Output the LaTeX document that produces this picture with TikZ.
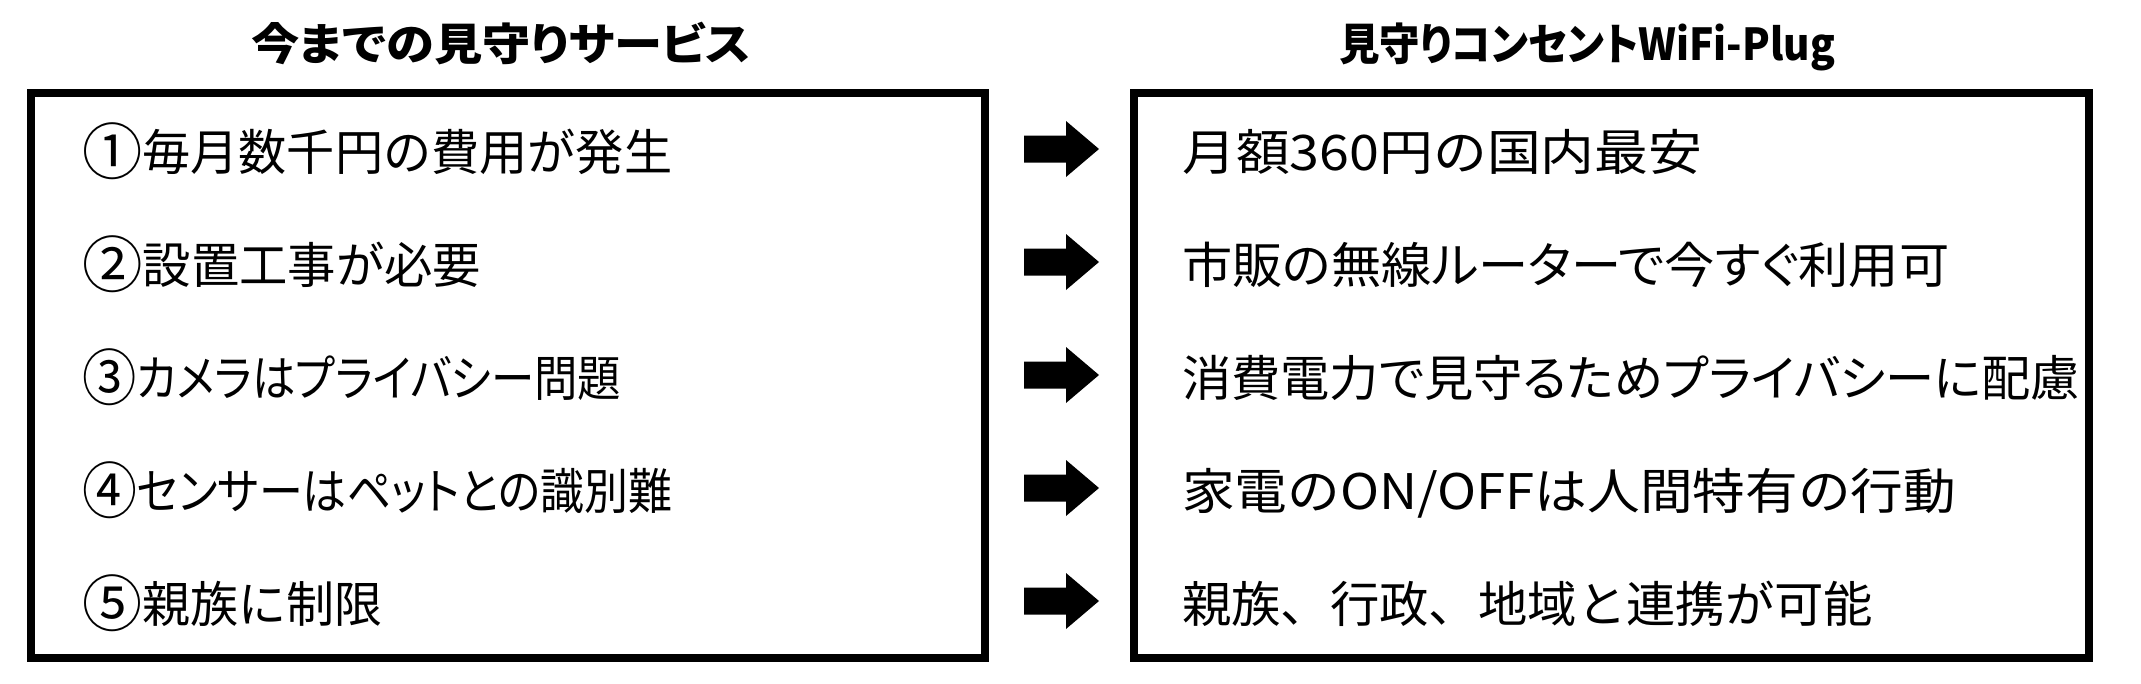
\documentclass[tikz,border=0pt]{standalone}
\usepackage{fontspec}
\usepackage{graphicx}
\setmainfont{Noto Sans CJK JP}
\newfontfamily\jp{Noto Sans CJK JP}
\newfontfamily\jpp{Noto Sans CJK JP}[RawFeature=+palt]
\newcommand\fitto[2]{\resizebox{#1pt}{\height}{#2}}
\newcommand\bignum[1]{\raisebox{-0.09em}{\scalebox{1.25}{#1}}}
\begin{document}
\begin{tikzpicture}[x=1pt,y=-1pt,
  box/.style={draw=black, line width=8pt, line join=miter, inner sep=0pt, outer sep=0pt},
  blockarrow/.style={fill=black},
  body/.style={anchor=base west, inner sep=0pt, font=\fontsize{49pt}{58pt}\selectfont},
  title/.style={anchor=base, inner sep=0pt, font=\fontsize{44pt}{52pt}\selectfont\bfseries}]
\useasboundingbox (0,0) rectangle (2141,683);
% titles
\node[title] (tl) at (501,60) {\fitto{500}{\jpp 今までの見守りサービス}};
\node[title] (tr) at (1587,60) {\fitto{496}{\jpp 見守りコンセントWiFi-Plug}};
% boxes
\node[box, minimum width=954.5pt, minimum height=565pt] (lbox) at (507.75,375.5) {};
\node[box, minimum width=955pt, minimum height=565pt] (rbox) at (1611.5,375.5) {};
% left items
\node[body] (l1) at (82,170) {\fitto{590}{\jp \bignum{①}毎月数千円の費用が発生}};
\node[body] (l2) at (82,283) {\fitto{399}{\jp \bignum{②}設置工事が必要}};
\node[body] (l3) at (82,396) {\fitto{539}{\jpp \bignum{③}カメラはプライバシー問題}};
\node[body] (l4) at (82,509) {\fitto{590}{\jpp \bignum{④}センサーはペットとの識別難}};
\node[body] (l5) at (82,622) {\fitto{300}{\jp \bignum{⑤}親族に制限}};
% right items
\node[body] (r1) at (1182,170) {\fitto{520}{\jp 月額360円の国内最安}};
\node[body] (r2) at (1182,283) {\fitto{767}{\jpp 市販の無線ルーターで今すぐ利用可}};
\node[body] (r3) at (1182,396) {\fitto{898}{\jpp 消費電力で見守るためプライバシーに配慮}};
\node[body] (r4) at (1182,509) {\fitto{774}{\jp 家電のON/OFFは人間特有の行動}};
\node[body] (r5) at (1182,622) {\fitto{691}{\jp 親族、行政、地域と連携が可能}};
% block arrows
\foreach \yy in {149,262,375,488,601}{
  \fill[blockarrow] (1024,\yy-13.5) -- (1066,\yy-13.5) -- (1066,\yy-28) -- (1099,\yy)
    -- (1066,\yy+28) -- (1066,\yy+13.5) -- (1024,\yy+13.5) -- cycle;
}
\end{tikzpicture}
\end{document}
